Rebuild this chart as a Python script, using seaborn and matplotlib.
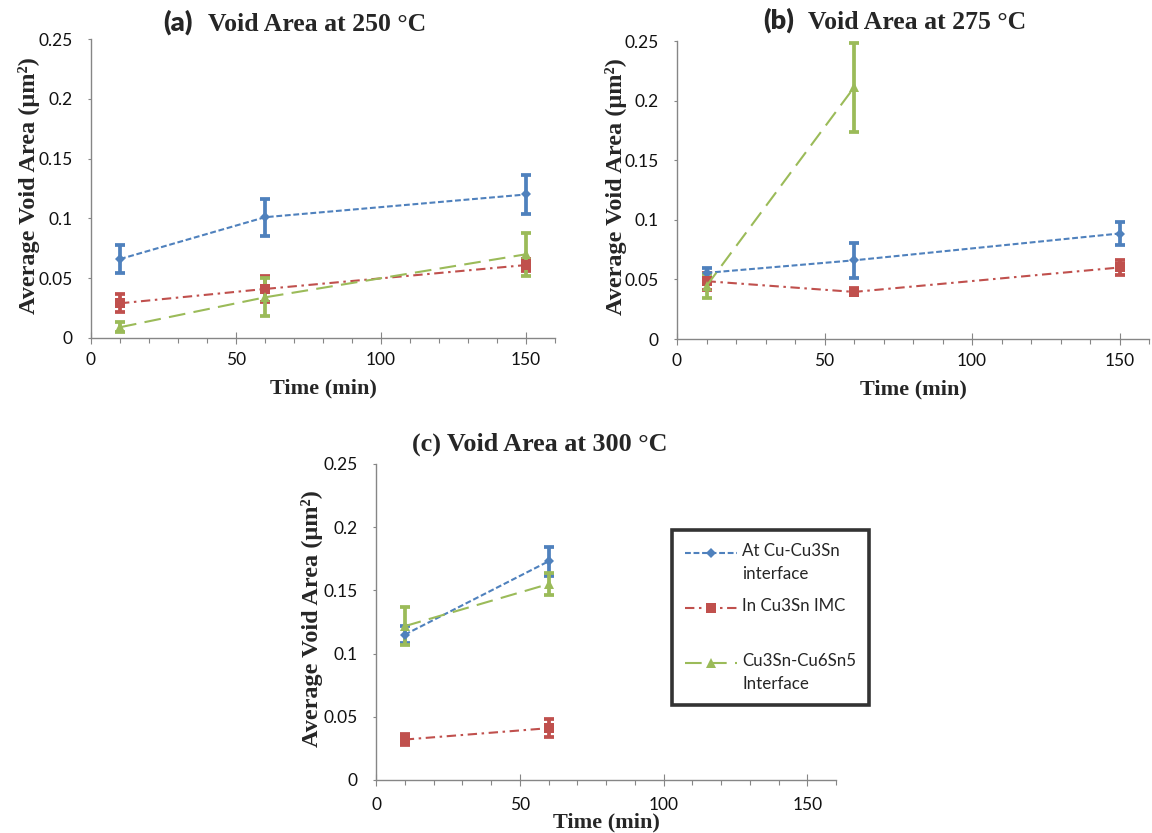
import numpy as np
import matplotlib
matplotlib.use("Agg")
import matplotlib.pyplot as plt
from matplotlib.ticker import FixedLocator, MultipleLocator
from matplotlib.legend_handler import HandlerLine2D
from matplotlib.font_manager import FontProperties
import seaborn as sns

# ---- data -------------------------------------------------------------
times = [10, 60, 150]

series_labels = ["At Cu-Cu3Sn\ninterface", "In Cu3Sn IMC\n ", "Cu3Sn-Cu6Sn5\nInterface"]

# 250 °C
a_cu_cu3sn = [0.066, 0.101, 0.120]
a_cu_cu3sn_err = [0.012, 0.0155, 0.0165]
a_in_cu3sn = [0.029, 0.041, 0.061]
a_in_cu3sn_err = [0.0075, 0.011, 0.005]
a_cu3sn_cu6sn5 = [0.009, 0.034, 0.070]
a_cu3sn_cu6sn5_err = [0.004, 0.016, 0.018]

# 275 °C
b_cu_cu3sn = [0.0555, 0.066, 0.0885]
b_cu_cu3sn_err = [0.004, 0.0145, 0.010]
b_in_cu3sn = [0.0485, 0.0395, 0.060]
b_in_cu3sn_err = [0.007, 0.003, 0.006]
b_cu3sn_cu6sn5 = [0.0445, 0.211]
b_cu3sn_cu6sn5_err = [0.010, 0.037]

# 300 °C
c_cu_cu3sn = [0.115, 0.173]
c_cu_cu3sn_err = [0.007, 0.0115]
c_in_cu3sn = [0.032, 0.041]
c_in_cu3sn_err = [0.0045, 0.007]
c_cu3sn_cu6sn5 = [0.1217, 0.155]
c_cu3sn_cu6sn5_err = [0.015, 0.0085]

x_ticks = [0, 50, 100, 150]
y_ticks = [0, 0.05, 0.1, 0.15, 0.2, 0.25]
y_tick_labels = ["0", "0.05", "0.1", "0.15", "0.2", "0.25"]

# ---- style ------------------------------------------------------------
sns.set_theme(style="white")
plt.rcParams["font.family"] = ["Lato", "DejaVu Sans"]
SERIF = ["Liberation Serif", "DejaVu Serif"]

colors = ["#4F81BD", "#C0504D", "#9BBB59"]
markers = ["D", "s", "^"]
marker_sizes = [5.5, 7.0, 7.5]
dash_patterns = [(2.8, 1.3), (4.5, 2.2, 1.2, 2.2), (8.0, 4.0)]
AXIS_GREY = "#868686"

W, H = 1152, 833
fig = plt.figure(figsize=(W / 100, H / 100), dpi=100)


def px_box(left, top, right, bottom):
    return [left / W, 1 - bottom / H, (right - left) / W, (bottom - top) / H]


ax_a = fig.add_axes(px_box(91, 39, 555, 338))
ax_b = fig.add_axes(px_box(677, 41, 1149, 339))
ax_c = fig.add_axes(px_box(376, 464, 836, 780))


def draw_panel(ax, values, errors):
    handles = []
    for i, (v, e) in enumerate(zip(values, errors)):
        t = times[:len(v)]
        ax.errorbar(t, v, yerr=e, fmt="none", ecolor=colors[i],
                    elinewidth=2.7, capsize=3.4, capthick=2.7, zorder=2)
        sns.lineplot(x=t, y=v, ax=ax, color=colors[i], marker=markers[i],
                     markersize=marker_sizes[i], markeredgewidth=0,
                     markeredgecolor=colors[i], linewidth=1.5,
                     linestyle=(0, dash_patterns[i]), errorbar=None,
                     legend=False, zorder=3)
        handles.append(ax.lines[-1])
    return handles


def style_axes(ax, xlabel_y, label_x, xpad):
    ax.set_xlim(0, 160)
    ax.set_ylim(0, 0.25)
    ax.xaxis.set_major_locator(FixedLocator(x_ticks))
    ax.xaxis.set_minor_locator(MultipleLocator(10))
    ax.yaxis.set_major_locator(FixedLocator(y_ticks))
    ax.set_yticklabels(y_tick_labels)
    for side in ("top", "right"):
        ax.spines[side].set_visible(False)
    for side in ("left", "bottom"):
        ax.spines[side].set_color(AXIS_GREY)
        ax.spines[side].set_linewidth(1.0)
    ax.tick_params(axis="x", which="major", direction="inout", length=8,
                   width=0.8, color=AXIS_GREY, pad=xpad, labelsize=12.5,
                   labelcolor="#111111", bottom=True)
    ax.tick_params(axis="x", which="minor", direction="out", length=3.5,
                   width=0.8, color=AXIS_GREY, bottom=True)
    ax.tick_params(axis="y", which="major", direction="out", length=2.5,
                   width=0.8, color=AXIS_GREY, pad=10.5, labelsize=12.5,
                   labelcolor="#111111", left=True)
    ax.set_xlabel("Time (min)", family=SERIF, fontweight="bold", fontsize=16)
    ax.set_ylabel("Average Void Area (μm²)", family=SERIF, fontweight="bold",
                  fontsize=17.5)
    ax.xaxis.set_label_coords(0.5, xlabel_y)
    ax.yaxis.set_label_coords(label_x, 0.51)
    ax.grid(False)


draw_panel(ax_a, [a_cu_cu3sn, a_in_cu3sn, a_cu3sn_cu6sn5],
           [a_cu_cu3sn_err, a_in_cu3sn_err, a_cu3sn_cu6sn5_err])
draw_panel(ax_b, [b_cu_cu3sn, b_in_cu3sn, b_cu3sn_cu6sn5],
           [b_cu_cu3sn_err, b_in_cu3sn_err, b_cu3sn_cu6sn5_err])
legend_handles = draw_panel(ax_c, [c_cu_cu3sn, c_in_cu3sn, c_cu3sn_cu6sn5],
                            [c_cu_cu3sn_err, c_in_cu3sn_err, c_cu3sn_cu6sn5_err])

style_axes(ax_a, -0.135, -0.11, 6)
style_axes(ax_b, -0.135, -0.106, 6)
style_axes(ax_c, -0.104, -0.115, 8)

# ---- panel titles -----------------------------------------------------
def fig_xy(x, y):
    return x / W, 1 - y / H

fig.text(*fig_xy(163, 31), "(a)", fontweight="heavy", fontsize=19.5, va="baseline")
fig.text(*fig_xy(208, 31), "Void Area at 250 °C", family=SERIF,
         fontweight="bold", fontsize=18.5, va="baseline")
fig.text(*fig_xy(763, 29), "(b)", fontweight="heavy", fontsize=19.5, va="baseline")
fig.text(*fig_xy(808, 29), "Void Area at 275 °C", family=SERIF,
         fontweight="bold", fontsize=18.5, va="baseline")
fig.text(*fig_xy(412, 451), "(c) Void Area at 300 °C", family=SERIF,
         fontweight="bold", fontsize=18.8, va="baseline")

# ---- legend -----------------------------------------------------------
LEGEND_FS = 12.2
LINE_SPACING = 1.55
renderer = fig.canvas.get_renderer()
_, lp_h, lp_d = renderer.get_text_width_height_descent(
    "lp", FontProperties(family=["Lato"], size=LEGEND_FS), ismath=False)
line_step_pt = (lp_h - lp_d) * LINE_SPACING * 72 / fig.dpi


class FirstLineHandler(HandlerLine2D):
    """Line handle placed beside the first line of a two-line label."""

    def __init__(self, lift, **kw):
        super().__init__(**kw)
        self.lift = lift

    def create_artists(self, legend, orig_handle, xdescent, ydescent, width,
                       height, fontsize, trans):
        artists = super().create_artists(legend, orig_handle, xdescent,
                                         ydescent, width, height, fontsize,
                                         trans)
        for art in artists:
            art.set_ydata(np.asarray(art.get_ydata(), dtype=float) + self.lift)
        return artists


leg = fig.legend(legend_handles, series_labels, loc="upper left",
                 bbox_to_anchor=fig_xy(672, 530), borderaxespad=0,
                 frameon=True, fancybox=False, edgecolor="black",
                 facecolor="white", fontsize=LEGEND_FS, handlelength=3.1,
                 handletextpad=0.3, labelspacing=0.95, borderpad=0.75,
                 handler_map={h: FirstLineHandler(line_step_pt / 2, numpoints=1)
                              for h in legend_handles})
leg.get_frame().set_linewidth(2.6)
for txt in leg.get_texts():
    txt.set_linespacing(LINE_SPACING)

fig.savefig("out.png", dpi=100, facecolor="white")
